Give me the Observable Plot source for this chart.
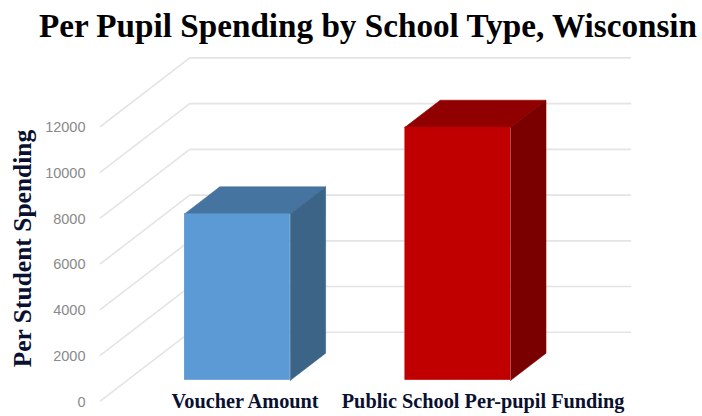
<!DOCTYPE html>
<html>
<head>
<meta charset="utf-8">
<script src="https://cdn.jsdelivr.net/npm/d3@7"></script>
<script src="https://cdn.jsdelivr.net/npm/@observablehq/plot@0.6"></script>
<style>
  html, body { margin: 0; padding: 0; background: #fff; }
  #chart { width: 702px; height: 416px; overflow: hidden; }
  h1 { margin: 0; height: 48px; width: 702px; text-align: center; padding-left: 34px; box-sizing: border-box;
       font: bold 33.2px/52px "Liberation Serif", serif; color: #000; white-space: nowrap; }
  svg { display: block; }
</style>
</head>
<body>
<div id="chart"><h1>Per Pupil Spending by School Type, Wisconsin</h1></div>
<script>
const categories = ["Voucher Amount", "Public School Per-pupil Funding"];
const spending = [7277, 11064];
const tickValues = [0, 2000, 4000, 6000, 8000, 10000, 12000];
const frontColors = ["#5b9ad5", "#c00000"];
const topColors = ["#44749f", "#900000"];
const sideColors = ["#3c6487", "#7a0000"];
const labelSlots = [0.656, 1.736];

// oblique projection: a point at floor depth d moves right and up
const depthX = 0.405, depthY = 3000;
const barFront = 0.30, barBack = 0.695, barWidth = 0.48;
const px = (cat, d) => cat + d * depthX;
const py = (val, d) => val + d * depthY;

const gridlines = tickValues.flatMap(v => [
  {tick: v, x: px(0, 0), y: py(v, 0)},
  {tick: v, x: px(0, 1), y: py(v, 1)},
  {tick: v, x: px(2, 1), y: py(v, 1)}
]);

const bars = categories.map((name, i) => {
  const l = i + 0.5 - barWidth / 2, r = i + 0.5 + barWidth / 2, v = spending[i];
  return {
    name, i, 
    x1: px(l, barFront), x2: px(r, barFront),
    y1: py(0, barFront), y2: py(v, barFront),
    top: [[l, v, barFront], [r, v, barFront], [r, v, barBack], [l, v, barBack], [l, v, barFront]],
    side: [[r, 0, barFront], [r, v, barFront], [r, v, barBack], [r, 0, barBack], [r, 0, barFront]]
  };
});
const face = (b, key) => b[key].map(([c, v, d]) => ({x: px(c, d), y: py(v, d)}));

const plot = Plot.plot({
  width: 702,
  height: 368,
  marginLeft: 100,
  marginRight: 72,
  marginTop: 9.4,
  marginBottom: 15.6,
  style: {background: "transparent", fontFamily: "Liberation Sans"},
  x: {domain: [0, 2.405], axis: null},
  y: {domain: [0, 15000], axis: null},
  marks: [
    Plot.line(gridlines, {x: "x", y: "y", z: "tick", stroke: "#e4e4e4", strokeWidth: 1.6}),
    ...bars.flatMap(b => [
      Plot.line(face(b, "top"), {x: "x", y: "y", fill: topColors[b.i], stroke: topColors[b.i], strokeWidth: 0.6}),
      Plot.line(face(b, "side"), {x: "x", y: "y", fill: sideColors[b.i], stroke: sideColors[b.i], strokeWidth: 0.6}),
      Plot.rect([b], {x1: "x1", x2: "x2", y1: "y1", y2: "y2", fill: frontColors[b.i]})
    ]),
    Plot.axisY({
      ticks: tickValues, tickSize: 0, tickPadding: 15, label: null,
      tickFormat: d => String(d), fontSize: 14.5, color: "#8a8a8a", dy: 1
    }),
    Plot.text(categories, {
      x: (d, i) => labelSlots[i], y: -30, text: d => d,
      fontFamily: "Liberation Serif", fontWeight: "bold", fontSize: 20.3, fill: "#0a1030"
    }),
    Plot.text(["Per Student Spending"], {
      x: -0.353, y: 6665, text: d => d, rotate: -90,
      fontFamily: "Liberation Serif", fontWeight: "bold", fontSize: 25.5, fill: "#0a1030"
    })
  ]
});
document.getElementById("chart").appendChild(plot);
</script>
</body>
</html>
